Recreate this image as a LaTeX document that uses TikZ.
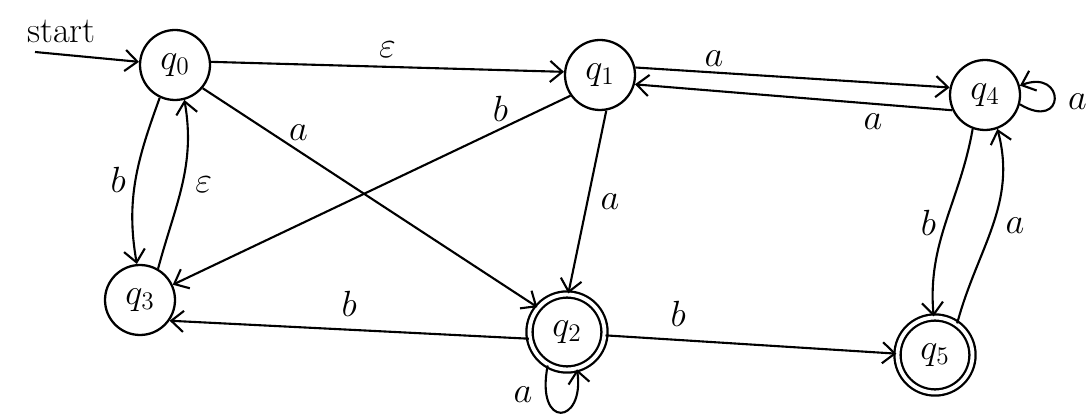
\documentclass[tikz,border=0pt]{standalone}
\usetikzlibrary{arrows.meta}
\begin{document}
\begin{tikzpicture}[x=0.02cm,y=-0.02cm,
  st/.style={draw,circle,line width=1.3pt,minimum size=1.4cm,inner sep=0pt,font=\huge},
  acc/.style={st,double,double distance=2.2pt,minimum size=1.5cm},
  tr/.style={line width=1.2pt,-{Straight Barb[length=7pt,width=12pt,line width=1.2pt]}},
  lb/.style={font=\huge,inner sep=1pt}]
\useasboundingbox (0,0) rectangle (1088,418);
\node[st] (q0) at (175,65) {$q_0$};
\node[st] (q1) at (600,75) {$q_1$};
\node[st] (q4) at (985,95) {$q_4$};
\node[st] (q3) at (140,300) {$q_3$};
\node[acc] (q2) at (567,332) {$q_2$};
\node[acc] (q5) at (935,355) {$q_5$};
\coordinate (s) at (35,52);
\node[lb,anchor=south west] (startlbl) at (25,45) {start};
\draw[tr] (s) -- (q0.175);
\draw[tr] (q0.5) -- node[lb,above=4pt] {$\varepsilon$} (q1.175);
\draw[tr] (q1.12) -- node[lb,above=2pt,pos=0.25] {$a$} (q4.168);
\draw[tr] (q4.205) -- node[lb,below=4pt,pos=0.25] {$a$} (q1.-15);
\draw[tr] (q4.-15) .. controls (1066,132) and (1066,68) .. (q4.15);
\node[lb,anchor=west] (la4) at (1066,102) {$a$};
\draw[tr] (q0.-40) -- node[lb,pos=0.25,above right=0pt] {$a$} (q2.140);
\draw[tr] (q1.215) -- node[lb,pos=0.15,above left=0pt] {$b$} (q3.25);
\draw[tr] (q1.-80) -- node[lb,right=6pt] {$a$} (q2.88);
\draw[tr] (q0.245) to[out=250,in=100] node[lb,left=4pt] {$b$} (q3.95);
\draw[tr] (q3.60) to[out=75,in=-80] node[lb,right=6pt] {$\varepsilon$} (q0.-75);
\draw[tr] (q2.190) -- node[lb,above=6pt] {$b$} (q3.-35);
\draw[tr] (q2.-5) -- node[lb,above=6pt,pos=0.25] {$b$} (q5.178);
\draw[tr] (q2.-120) .. controls (535,430) and (585,425) .. (q2.-75);
\node[lb] (la2) at (523,395) {$a$};
\draw[tr] (q4.-110) to[out=-100,in=95] node[lb,left=4pt] {$b$} (q5.92);
\draw[tr] (q5.55) to[out=75,in=-75] node[lb,right=6pt] {$a$} (q4.-70);
\end{tikzpicture}
\end{document}
